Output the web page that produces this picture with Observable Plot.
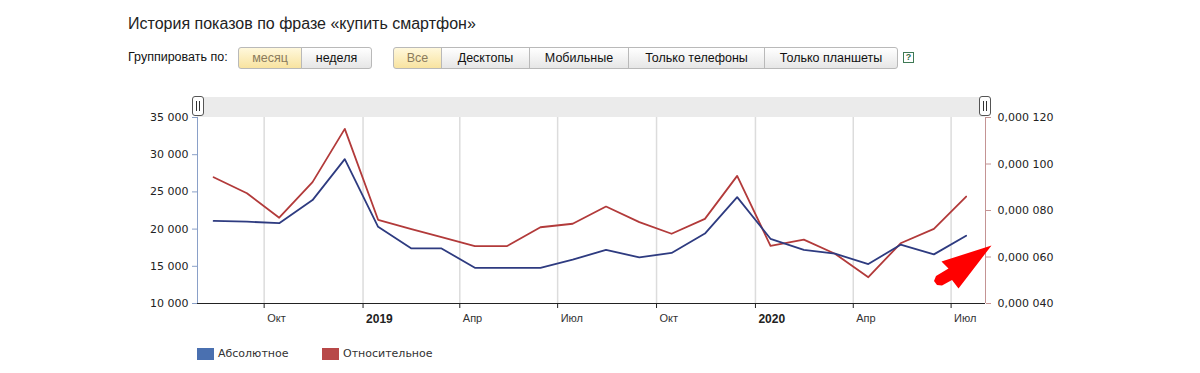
<!DOCTYPE html>
<html>
<head>
<meta charset="utf-8">
<script src="https://cdn.jsdelivr.net/npm/d3@7"></script>
<script src="https://cdn.jsdelivr.net/npm/@observablehq/plot@0.6"></script>
<style>
  body { margin:0; width:1200px; height:373px; position:relative; background:#fff; overflow:hidden; font-family:"Liberation Sans", Arial, sans-serif; }
  .abs { position:absolute; }
  #title { left:128px; top:15px; font-size:16px; color:#222; white-space:nowrap; }
  #group { left:128px; top:50px; font-size:12.5px; color:#111; white-space:nowrap; }
  .btn { position:absolute; top:47px; height:22px; box-sizing:border-box; border:1px solid #b9b9b9; background:linear-gradient(#ffffff,#e6e6e6); font-size:12.5px; line-height:20px; text-align:center; color:#111; white-space:nowrap; }
  .sel { background:linear-gradient(#fff8dc,#f8e3a0); color:#8a7b5c; }
  .first { border-radius:3px 0 0 3px; }
  .last { border-radius:0 3px 3px 0; }
  #help { left:903px; top:52px; width:11px; height:11px; box-sizing:border-box; border:1px solid #3f7a55; font-size:9px; line-height:9px; text-align:center; color:#2f6a45; font-weight:bold; }
  #chart { left:0; top:90px; }
  #nav { left:197px; top:97px; width:788px; height:20px; background:#ebebeb; }
  .handle { position:absolute; top:96px; width:12px; height:20px; box-sizing:border-box; border:1px solid #555; border-radius:3px; background:#fff; }
  .handle::before, .handle::after { content:""; position:absolute; top:4px; width:1px; height:10px; background:#333; }
  .handle::before { left:3px; } .handle::after { left:6px; }
  #legend { left:0; top:348px; font-family:"DejaVu Sans", Verdana, sans-serif; font-size:11px; color:#333; }
  .sw { position:absolute; top:0px; width:17px; height:12px; }
  .lt { position:absolute; top:-1px; white-space:nowrap; line-height:14px; }
</style>
</head>
<body>
<div id="title" class="abs">История показов по фразе «купить смартфон»</div>
<div id="group" class="abs">Группировать по:</div>
<div class="btn sel first" style="left:238px;width:64px">месяц</div>
<div class="btn last" style="left:301px;width:71px">неделя</div>
<div class="btn sel first" style="left:393px;width:49px">Все</div>
<div class="btn" style="left:441px;width:89px">Десктопы</div>
<div class="btn" style="left:529px;width:100px">Мобильные</div>
<div class="btn" style="left:628px;width:137px">Только телефоны</div>
<div class="btn last" style="left:764px;width:134px">Только планшеты</div>
<div id="help" class="abs">?</div>
<div id="chart" class="abs"></div>
<div id="nav" class="abs"></div>
<div class="handle" style="left:192px"></div>
<div class="handle" style="left:979px"></div>
<svg class="abs" style="left:0;top:0" width="1200" height="373">
  <polygon points="991.5,245.5 941.5,261.5 948.5,268.5 936,276 934,281 937,285 942,285.5 952,280 958.5,288.5" fill="#ff0000"/>
</svg>
<div id="legend" class="abs">
  <div class="sw" style="left:197px;background:#4a70b0"></div>
  <div class="lt" style="left:218px">Абсолютное</div>
  <div class="sw" style="left:322px;background:#b84848"></div>
  <div class="lt" style="left:343px">Относительное</div>
</div>
<script>
// ---- data ----
const months = ["2018-08","2018-09","2018-10","2018-11","2018-12","2019-01","2019-02","2019-03","2019-04","2019-05","2019-06","2019-07",
                "2019-08","2019-09","2019-10","2019-11","2019-12","2020-01","2020-02","2020-03","2020-04","2020-05","2020-06","2020-07"];
const absolute = [21100, 21000, 20800, 23900, 29400, 20300, 17400, 17400, 14800, 14800, 14800, 15900,
                  17200, 16200, 16800, 19400, 24300, 18700, 17200, 16700, 15300, 17900, 16600, 19100];
const relative = [0.0000943, 0.0000874, 0.0000769, 0.0000922, 0.0001151, 0.0000760, 0.0000720, 0.0000685, 0.0000647, 0.0000647, 0.0000728, 0.0000743,
                  0.0000817, 0.0000750, 0.0000700, 0.0000764, 0.0000949, 0.0000648, 0.0000675, 0.0000614, 0.0000513, 0.0000659, 0.0000721, 0.0000860];
const tickDates = ["2018-10-01","2019-01-01","2019-04-01","2019-07-01","2019-10-01","2020-01-01","2020-04-01","2020-07-01"];
const tickLabels = ["Окт","2019","Апр","Июл","Окт","2020","Апр","Июл"];
const leftTicks = [10000, 15000, 20000, 25000, 30000, 35000];
const rightTicks = [0.00004, 0.00006, 0.00008, 0.00010, 0.00012];

// ---- scales ----
const yDomain = [10000, 35000];
const rDomain = [0.00004, 0.00012];
const toLeft = v => yDomain[0] + (v - rDomain[0]) / (rDomain[1] - rDomain[0]) * (yDomain[1] - yDomain[0]);
const fromLeft = v => rDomain[0] + (v - yDomain[0]) / (yDomain[1] - yDomain[0]) * (rDomain[1] - rDomain[0]);
const xDomain = [new Date("2018-07-31"), new Date("2020-08-02")];

const rows = months.map((m, i) => ({date: new Date(m + "-15"), abs: absolute[i], rel: toLeft(relative[i])}));
const ticks = tickDates.map((d, i) => ({date: new Date(d), label: tickLabels[i], year: /^\d+$/.test(tickLabels[i])}));

const fmtLeft = v => d3.format(",")(v).replace(/,/g, " ");
const fmtRight = v => { const s = fromLeft(v).toFixed(6).replace(".", ","); return s.slice(0, 5) + " " + s.slice(5); };

const chart = Plot.plot({
  width: 1200, height: 243,
  marginLeft: 197, marginRight: 215, marginTop: 27, marginBottom: 30,
  style: {background: "transparent", fontFamily: "DejaVu Sans, Verdana, sans-serif", fontSize: "11px", color: "#333"},
  x: {type: "utc", domain: xDomain},
  y: {domain: yDomain},
  marks: [
    Plot.gridX(ticks.map(t => t.date), {stroke: "#dcdcdc", strokeOpacity: 1, strokeWidth: 1.5}),
    Plot.axisX(ticks.map(t => t.date), {tickSize: 5, tickFormat: () => "", stroke: "#222"}),
    Plot.text(ticks.filter(t => !t.year), {x: "date", text: "label", frameAnchor: "bottom", lineAnchor: "top", dy: 11, dx: 3, textAnchor: "start", fontFamily: "Liberation Sans, Arial, sans-serif", fontSize: 11, fill: "#333"}),
    Plot.text(ticks.filter(t => t.year), {x: "date", text: "label", frameAnchor: "bottom", lineAnchor: "top", dy: 11, dx: 3, textAnchor: "start", fontFamily: "Liberation Sans, Arial, sans-serif", fontSize: 12, fontWeight: "bold", fill: "#222"}),
    Plot.axisY(leftTicks, {anchor: "left", tickSize: 5, tickPadding: 4, tickFormat: fmtLeft, stroke: "#8aa0c8", fill: "#222"}),
    Plot.axisY(rightTicks.map(toLeft), {anchor: "right", tickSize: 5, tickPadding: 7, tickFormat: fmtRight, stroke: "#c49494", fill: "#222"}),
    Plot.ruleX([xDomain[0]], {stroke: "#8aa0c8"}),
    Plot.ruleX([xDomain[1]], {stroke: "#c49494"}),
    Plot.ruleY([yDomain[0]], {stroke: "#222"}),
    Plot.line(rows, {x: "date", y: "rel", stroke: "#b23a3a", strokeWidth: 1.8}),
    Plot.line(rows, {x: "date", y: "abs", stroke: "#2e3b80", strokeWidth: 1.8})
  ]
});
document.getElementById("chart").appendChild(chart);
</script>
</body>
</html>
